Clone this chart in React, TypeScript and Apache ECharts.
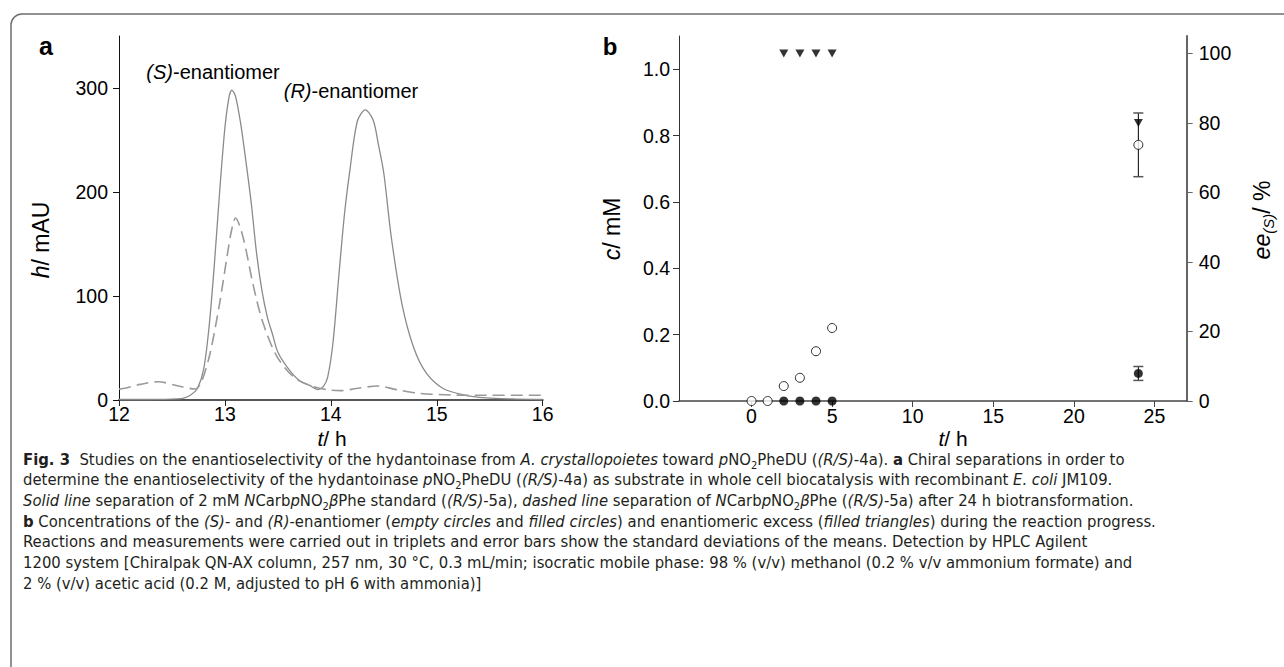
import React, { useEffect, useRef } from "react";
import * as echarts from "echarts";

// Panel a: chromatogram
const tSolid = [12.0, 12.3, 12.55, 12.62, 12.68, 12.74, 12.8, 12.85, 12.9, 12.95, 13.0, 13.04, 13.065, 13.1, 13.15, 13.2, 13.25, 13.3, 13.35, 13.4, 13.45, 13.5, 13.6, 13.7, 13.8, 13.88, 13.93, 13.97, 14.02, 14.08, 14.13, 14.18, 14.25, 14.325, 14.4, 14.45, 14.5, 14.57, 14.67, 14.78, 14.9, 15.06, 15.25, 15.47, 15.7, 16.0];
const hSolid = [0.5, 0.5, 1, 2, 5, 11, 30, 70, 130, 200, 262, 292, 298, 292, 265, 228, 188, 140, 105, 80, 63, 46, 30, 19, 14, 10, 13, 22, 55, 125, 180, 221, 268, 279, 269, 245, 218, 157, 93, 51, 26, 11, 5, 2, 1, 0.5];
const tDash = [12.0, 12.04, 12.2, 12.37, 12.54, 12.72, 12.78, 12.86, 12.95, 13.02, 13.06, 13.1, 13.17, 13.27, 13.36, 13.49, 13.65, 13.8, 13.96, 14.09, 14.24, 14.44, 14.62, 14.84, 15.15, 15.47, 16.0];
const hDash = [10.5, 11, 15, 17.6, 14, 10.6, 18, 45, 93, 138, 162, 175, 157, 109, 74, 42, 22, 14, 10, 9, 11, 13.5, 10, 6.4, 4.8, 4.5, 4.5];
const aXTicks = [12, 13, 14, 15, 16];
const aYTicks = [0, 100, 200, 300];

// Panel b: reaction progress
const tS = [0, 1, 2, 3, 4, 5, 24];
const cS = [0, 0, 0.045, 0.07, 0.15, 0.22, 0.772];
const cSsd = [0, 0, 0, 0, 0, 0, 0.096];
const tR = [2, 3, 4, 5, 24];
const cR = [0, 0, 0, 0, 0.083];
const cRsd = [0, 0, 0, 0, 0.021];
const tEE = [2, 3, 4, 5, 24];
const eeS = [100, 100, 100, 100, 80];
const bXTicks = [0, 5, 10, 15, 20, 25];
const bYTicks = [0, 0.2, 0.4, 0.6, 0.8, 1.0];
const bY2Ticks = [0, 20, 40, 60, 80, 100];

const captionLines = [
  "{b|Fig. 3}  Studies on the enantioselectivity of the hydantoinase from {i|A. crystallopoietes} toward {i|p}NO{sub|2}PheDU ({i|(R/S)}-4a). {b|a} Chiral separations in order to",
  "determine the enantioselectivity of the hydantoinase {i|p}NO{sub|2}PheDU ({i|(R/S)}-4a) as substrate in whole cell biocatalysis with recombinant {i|E. coli} JM109.",
  "{i|Solid line} separation of 2 mM {i|N}Carb{i|p}NO{sub|2}{i|β}Phe standard ({i|(R/S)}-5a), {i|dashed line} separation of {i|N}Carb{i|p}NO{sub|2}{i|β}Phe ({i|(R/S)}-5a) after 24 h biotransformation.",
  "{b|b} Concentrations of the {i|(S)}- and {i|(R)}-enantiomer ({i|empty circles} and {i|filled circles}) and enantiomeric excess ({i|filled triangles}) during the reaction progress.",
  "Reactions and measurements were carried out in triplets and error bars show the standard deviations of the means. Detection by HPLC Agilent",
  "1200 system [Chiralpak QN-AX column, 257 nm, 30 °C, 0.3 mL/min; isocratic mobile phase: 98 % (v/v) methanol (0.2 % v/v ammonium formate) and",
  "2 % (v/v) acetic acid (0.2 M, adjusted to pH 6 with ammonia)]",
];

const FONT = "'Liberation Sans', Arial, sans-serif";
const CAP_FONT = "'Liberation Sans Narrow', 'Arial Narrow', 'DejaVu Sans Condensed', 'Roboto', sans-serif";
const CAP_SIZE = 16.5;

export default function App() {
  const ref = useRef<HTMLDivElement>(null);
  useEffect(() => {
    if (!ref.current) return;
    const chart = echarts.init(ref.current, null, { renderer: "svg" });

    const errData: number[][] = [];
    tS.forEach((t, i) => { if (cSsd[i] > 0) errData.push([t, cS[i] - cSsd[i], cS[i] + cSsd[i]]); });
    tR.forEach((t, i) => { if (cRsd[i] > 0) errData.push([t, cR[i] - cRsd[i], cR[i] + cRsd[i]]); });

    const tickLabel = { fontSize: 19.5, color: "#000", fontFamily: FONT };

    const capRich = {
      b: { fontWeight: "bold", fontSize: CAP_SIZE, fontFamily: CAP_FONT, color: "#231f20" },
      i: { fontStyle: "italic", fontSize: CAP_SIZE, fontFamily: CAP_FONT, color: "#231f20" },
      sub: { fontSize: 11, fontFamily: CAP_FONT, color: "#231f20", padding: [12, 0, 0, 0] },
    };

    const ital = (size: number) => ({ i: { fontStyle: "italic", fontSize: size, fontFamily: FONT, color: "#000" } });

    const graphic: any[] = [
      { type: "rect", shape: { x: 11, y: 14, width: 1400, height: 800, r: 11 }, style: { fill: "none", stroke: "#6e6e6e", lineWidth: 1.5 }, z: 0 },
      { type: "text", x: 46, y: 46, style: { text: "a", font: `bold 25px ${FONT}`, fill: "#000", align: "center", verticalAlign: "middle" } },
      { type: "text", x: 610, y: 46, style: { text: "b", font: `bold 24px ${FONT}`, fill: "#000", align: "center", verticalAlign: "middle" } },
      { type: "text", x: 213, y: 72, style: { text: "{i|(S)}-enantiomer", font: `20px ${FONT}`, fill: "#000", align: "center", verticalAlign: "middle", rich: ital(20) } },
      { type: "text", x: 351, y: 91, style: { text: "{i|(R)}-enantiomer", font: `20px ${FONT}`, fill: "#000", align: "center", verticalAlign: "middle", rich: ital(20) } },
      { type: "text", x: 41, y: 240, rotation: Math.PI / 2, style: { text: "{i|h}/ mAU", font: `23px ${FONT}`, fill: "#000", align: "center", verticalAlign: "middle", rich: ital(23) } },
      { type: "text", x: 332, y: 438, style: { text: "{i|t}/ h", font: `21px ${FONT}`, fill: "#000", align: "center", verticalAlign: "middle", rich: ital(21) } },
      { type: "text", x: 953, y: 438, style: { text: "{i|t}/ h", font: `21px ${FONT}`, fill: "#000", align: "center", verticalAlign: "middle", rich: ital(21) } },
      { type: "text", x: 612, y: 229, rotation: Math.PI / 2, style: { text: "{i|c}/ mM", font: `23px ${FONT}`, fill: "#000", align: "center", verticalAlign: "middle", rich: ital(23) } },
      {
        type: "text", x: 1262, y: 220, rotation: Math.PI / 2,
        style: { text: "{i|ee}{s|(S)}{n|/ %}", font: `23px ${FONT}`, fill: "#000", align: "center", verticalAlign: "middle",
          rich: {
            i: { fontStyle: "italic", fontSize: 23, fontFamily: FONT, color: "#000" },
            s: { fontStyle: "italic", fontSize: 15, fontFamily: FONT, color: "#000", padding: [12, 0, 0, 0] },
            n: { fontSize: 23, fontFamily: FONT, color: "#000" },
          } },
      },
    ];
    captionLines.forEach((line, k) => {
      graphic.push({
        type: "text", x: 23, y: 459 + k * 20.7,
        style: { text: line, font: `${CAP_SIZE}px ${CAP_FONT}`, fill: "#231f20", align: "left", verticalAlign: "middle", rich: capRich },
      });
    });

    const option: any = {
      animation: false,
      backgroundColor: "#fff",
      textStyle: { fontFamily: FONT },
      grid: [
        { left: 119, top: 36, width: 423.7, height: 364 },
        { left: 679, top: 36, width: 507.7, height: 365 },
      ],
      xAxis: [
        {
          gridIndex: 0, type: "value", min: 12, max: 16, interval: 1,
          axisLine: { onZero: false, lineStyle: { color: "#555", width: 2 } },
          axisTick: { length: 6, lineStyle: { color: "#222", width: 1 }, customValues: aXTicks },
          axisLabel: { ...tickLabel, margin: 4, customValues: aXTicks },
          splitLine: { show: false },
        },
        {
          gridIndex: 1, type: "value", min: -4.5, max: 27,
          axisLine: { onZero: false, lineStyle: { color: "#444", width: 1.5 } },
          axisTick: { length: 6, lineStyle: { color: "#444", width: 1 }, customValues: bXTicks },
          axisLabel: { ...tickLabel, margin: 5, customValues: bXTicks },
          splitLine: { show: false },
        },
      ],
      yAxis: [
        {
          gridIndex: 0, type: "value", min: 0, max: 350,
          axisLine: { show: true, onZero: false, lineStyle: { color: "#111", width: 1 } },
          axisTick: { show: true, length: 6, lineStyle: { color: "#111" }, customValues: aYTicks },
          axisLabel: { ...tickLabel, margin: 11, customValues: aYTicks },
          splitLine: { show: false },
        },
        {
          gridIndex: 1, type: "value", min: 0, max: 1.1,
          axisLine: { show: true, onZero: false, lineStyle: { color: "#333", width: 1 } },
          axisTick: { show: true, length: 6, lineStyle: { color: "#333" }, customValues: bYTicks },
          axisLabel: { ...tickLabel, margin: 9, customValues: bYTicks, formatter: (v: number) => v.toFixed(1) },
          splitLine: { show: false },
        },
        {
          gridIndex: 1, type: "value", min: 0, max: 105, position: "right",
          axisLine: { show: true, onZero: false, lineStyle: { color: "#666", width: 2 } },
          axisTick: { show: true, length: 6, lineStyle: { color: "#666" }, customValues: bY2Ticks },
          axisLabel: { ...tickLabel, margin: 12, customValues: bY2Ticks },
          splitLine: { show: false },
        },
      ],
      series: [
        {
          type: "line", xAxisIndex: 0, yAxisIndex: 0, data: tSolid.map((t, i) => [t, hSolid[i]]),
          showSymbol: false, smooth: 0.3, lineStyle: { color: "#8a8a8a", width: 1.3 },
        },
        {
          type: "line", xAxisIndex: 0, yAxisIndex: 0, data: tDash.map((t, i) => [t, hDash[i]]),
          showSymbol: false, smooth: 0.3, lineStyle: { color: "#9a9a9a", width: 1.6, type: [12, 6] },
        },
        {
          type: "custom", xAxisIndex: 1, yAxisIndex: 1, data: errData, encode: { x: 0, y: [1, 2] },
          renderItem: (params: any, api: any) => {
            const x = api.value(0);
            const p1 = api.coord([x, api.value(1)]);
            const p2 = api.coord([x, api.value(2)]);
            const w = 5;
            return {
              type: "group",
              children: [
                { type: "line", shape: { x1: p1[0], y1: p1[1], x2: p2[0], y2: p2[1] }, style: { stroke: "#000", lineWidth: 1 } },
                { type: "line", shape: { x1: p1[0] - w, y1: p1[1], x2: p1[0] + w, y2: p1[1] }, style: { stroke: "#555", lineWidth: 1.5 } },
                { type: "line", shape: { x1: p2[0] - w, y1: p2[1], x2: p2[0] + w, y2: p2[1] }, style: { stroke: "#555", lineWidth: 1.5 } },
              ],
            };
          },
          z: 2,
        },
        {
          type: "scatter", xAxisIndex: 1, yAxisIndex: 1, data: tS.map((t, i) => [t, cS[i]]),
          symbol: "circle", symbolSize: 9, itemStyle: { color: "#fff", borderColor: "#000", borderWidth: 1 }, z: 3,
        },
        {
          type: "scatter", xAxisIndex: 1, yAxisIndex: 1, data: tR.map((t, i) => [t, cR[i]]),
          symbol: "circle", symbolSize: 9, itemStyle: { color: "#000" }, z: 3,
        },
        {
          type: "scatter", xAxisIndex: 1, yAxisIndex: 2, data: tEE.map((t, i) => [t, eeS[i]]),
          symbol: "triangle", symbolRotate: 180, symbolSize: [9, 8], itemStyle: { color: "#000" }, z: 3,
        },
      ],
      graphic,
    };
    chart.setOption(option);
    return () => chart.dispose();
  }, []);
  return <div ref={ref} style={{ position: "fixed", left: 0, top: 0, width: 1284, height: 667 }} />;
}
